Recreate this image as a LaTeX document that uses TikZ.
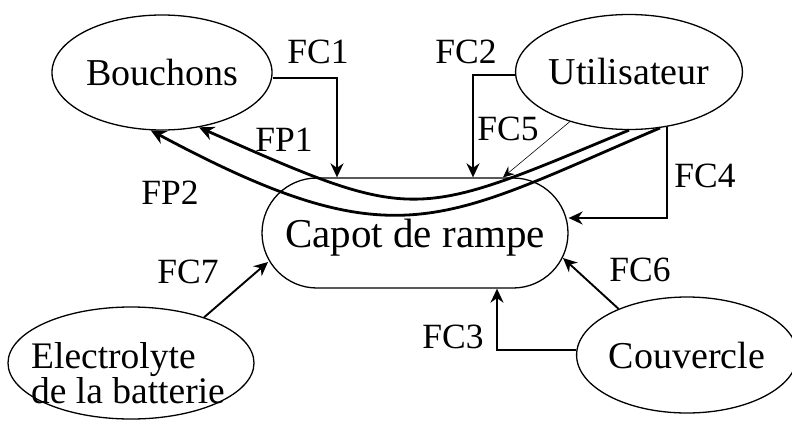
\documentclass[tikz,border=0pt]{standalone}
\usepackage{fontspec}
\setmainfont{Liberation Serif}
\usetikzlibrary{shapes.geometric,arrows.meta}
\begin{document}
\begin{tikzpicture}[x=1pt,y=-1pt,
  ell/.style={draw,ellipse,line width=1.3pt,inner sep=0pt,font=\fontsize{38}{40}\selectfont},
  lbl/.style={inner sep=0pt,font=\fontsize{35.5}{38}\selectfont},
  conn/.style={line width=1.9pt,-{Stealth[length=14pt,width=13pt,inset=4.5pt]}},
  fp/.style={line width=2.8pt,-{Stealth[length=15pt,width=14pt,inset=5pt]}},
  thinconn/.style={line width=0.6pt,-{Stealth[length=11pt,width=10pt,inset=4pt]}}]
\useasboundingbox (0,0) rectangle (792,423);
% nodes
\node[ell,minimum width=220pt,minimum height=115pt] (bouch) at (162,72.5) {Bouchons};
\node[ell,minimum width=212pt,minimum height=115pt] (util) at (629,72) {Utilisateur};
\node[draw,line width=1.3pt,rounded corners=55pt,minimum width=306pt,minimum height=110pt,inner sep=0pt,
      text height=33pt,text depth=4pt,
      font=\fontsize{41}{44}\selectfont] (capot) at (415,233) {Capot de rampe};
\node[ell,minimum width=246pt,minimum height=112pt] (elec) at (131,363) {};
\node[inner sep=0pt,align=left,font=\fontsize{37.5}{34}\selectfont] (electext) at (128,373) {Electrolyte\\de la batterie};
\node[ell,minimum width=208pt,minimum height=116pt] (couv) at (687,355) {Couvercle};
% connectors
\draw[conn] ([yshift=-5.5pt]bouch.east) -| ([xshift=-78pt]capot.north);
\draw[conn] ([yshift=-3pt]util.west) -| ([xshift=58pt]capot.north);
\draw[thinconn] (util.220) -- ([xshift=88pt]capot.north);
\draw[conn] (util.305) |- ([yshift=15pt]capot.east);
\draw[conn] (couv.146) -- ([shift={(148pt,-25pt)}]capot.center);
\draw[conn] ([yshift=5pt]couv.west) -| ([xshift=82pt]capot.south);
\draw[conn] (elec.32) -- ([shift={(-147pt,-29pt)}]capot.center);
\draw[fp] (util.south) .. controls (413,220) and (417,224) .. (bouch.304);
\draw[fp] (util.299) .. controls (441,221) and (398,263) .. (bouch.259);
% labels
\node[lbl] (lfc1) at (318,52) {FC1};
\node[lbl] (lfc2) at (466,52) {FC2};
\node[lbl] (lfc5) at (508,129) {FC5};
\node[lbl] (lfc4) at (705,176) {FC4};
\node[lbl] (lfc6) at (640,270) {FC6};
\node[lbl] (lfc3) at (453,337) {FC3};
\node[lbl] (lfc7) at (188,272) {FC7};
\node[lbl] (lfp1) at (284,140) {FP1};
\node[lbl] (lfp2) at (170,193) {FP2};
\end{tikzpicture}
\end{document}
